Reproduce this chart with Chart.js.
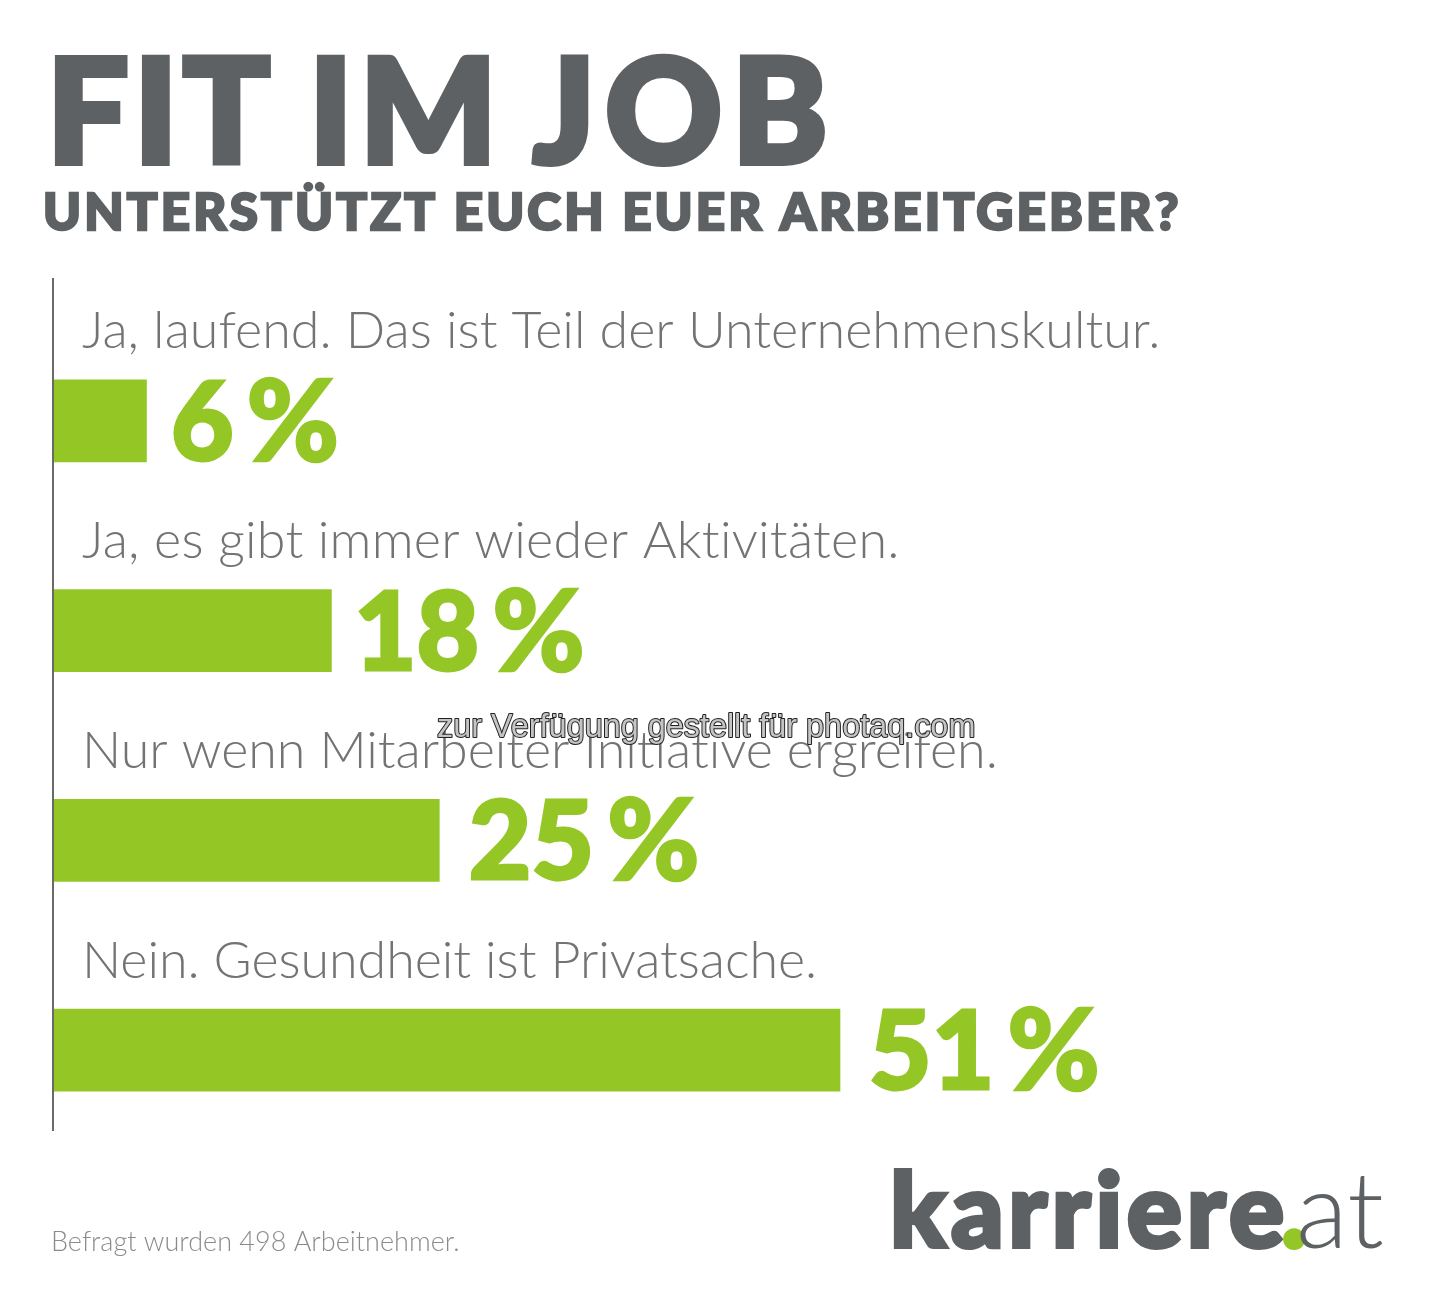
<!DOCTYPE html>
<html lang="de"><head><meta charset="utf-8">
<style>html,body{margin:0;padding:0;background:#fff}#w{position:relative;width:1440px;height:1296px}canvas{display:block}</style>
<script src="https://cdn.jsdelivr.net/npm/chart.js@4"></script></head>
<body><div id="w"><canvas id="c" width="1440" height="1296"></canvas></div>
<script>
const title = "FIT IM JOB";
const subtitle = "UNTERSTÜTZT EUCH EUER ARBEITGEBER?";
const categories = ["Ja, laufend. Das ist Teil der Unternehmenskultur.","Ja, es gibt immer wieder Aktivitäten.","Nur wenn Mitarbeiter Initiative ergreifen.","Nein. Gesundheit ist Privatsache."];
const values = [6,18,25,51];
const footnote = "Befragt wurden 498 Arbeitnehmer.";
const watermark = "zur Verfügung gestellt für photaq.com";
const labelGaps = [24.5,22.5,29.5,29];
const rowSpacing = [0.01,0.25,-0.03,-0.06];
const rowLift = [73,73,72,72];
const titleX = [47,309,533], titleSpacing = [5.4,7,10];
const GREEN="#94c726", DARK="#5e6163", TXT="#727375";

function text(ctx,s,x,y,font,color,ls,sw){
 ctx.font=font;ctx.fillStyle=color;ctx.letterSpacing=(ls||0.01)+"px";ctx.textAlign="left";ctx.textBaseline="alphabetic";
 ctx.lineJoin="miter";ctx.miterLimit=3;
 if(sw){ctx.strokeStyle=color;ctx.lineWidth=sw;ctx.strokeText(s,x,y);}
 ctx.fillText(s,x,y);
 const w=ctx.measureText(s).width;ctx.letterSpacing="0px";return w;
}
const deco={id:"deco",afterDatasetsDraw(ch){
 const c=ch.ctx,xs=ch.scales.x,ys=ch.scales.y,x0=xs.getPixelForValue(0);
 c.save();
 title.split(" ").forEach((w,i)=>text(c,w,titleX[i],163,"900 144px Lato",DARK,titleSpacing[i],6));
 text(c,subtitle,43,229.5,"900 51px Lato",DARK,3.2,2.5);
 c.strokeStyle="#6a6a6a";c.lineWidth=2;c.beginPath();c.moveTo(x0-1,278);c.lineTo(x0-1,1131);c.stroke();
 categories.forEach((s,i)=>{
  const y=ys.getPixelForValue(i);
  text(c,s,x0+28,y-rowLift[i],"300 52px Lato",TXT,rowSpacing[i]);
  const vx=xs.getPixelForValue(values[i])+labelGaps[i];
  const w=text(c,String(values[i]),vx,y+39,"900 108px Lato",GREEN,0.01,3);
  text(c,"%",vx+w+13,y+40,"900 112px Lato",GREEN,0.01,2.5);
 });
 text(c,footnote,51,1251,"300 27px Lato","#8a8b8d");
 text(c,"karriere",890,1247,"900 103px Lato",DARK,4.7,4);
 text(c,".",1281,1247,"900 110px Lato",GREEN,0,4);
 text(c,"at",1296,1248,"300 107px Lato",DARK);
 c.font="32.4px 'Liberation Sans'";c.letterSpacing="0px";c.lineWidth=2;c.strokeStyle="#222";c.lineJoin="round";c.strokeText(watermark,437,737);
 c.fillStyle="#c4c4c4";c.fillText(watermark,437,737);
 c.restore();
}};
new Chart(document.getElementById("c"),{type:"bar",plugins:[deco],
 data:{labels:categories,datasets:[{data:values,backgroundColor:GREEN,barThickness:82,borderWidth:0}]},
 options:{indexAxis:"y",responsive:false,animation:false,
  layout:{padding:{left:54,right:76,top:316,bottom:141}},
  plugins:{legend:{display:false},tooltip:{enabled:false}},
  scales:{x:{display:false,min:0,max:85},y:{display:false,grid:{display:false}}}}});
</script></body></html>
